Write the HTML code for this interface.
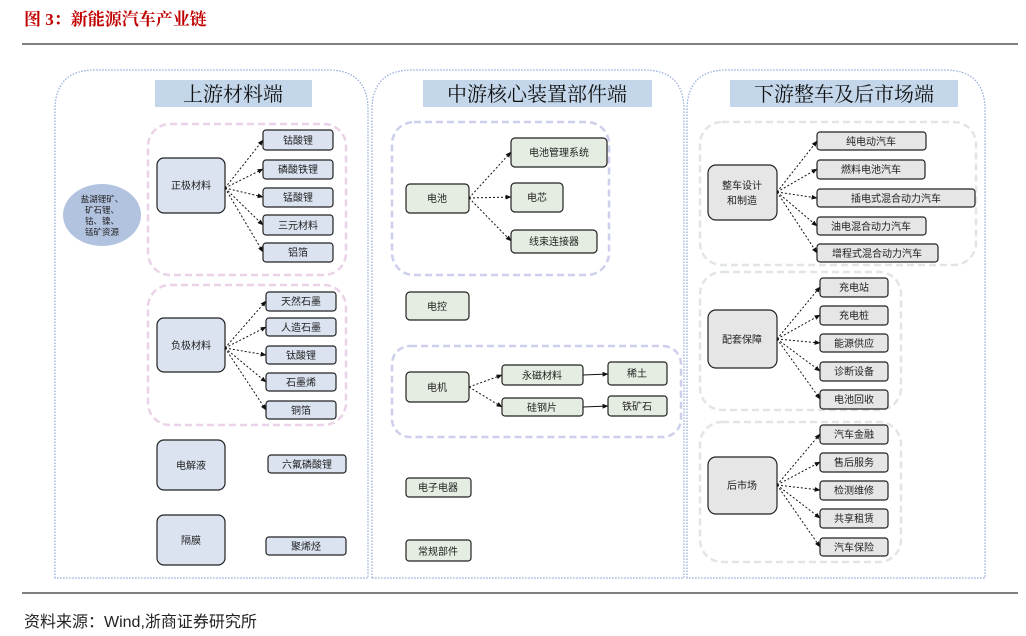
<!DOCTYPE html>
<html><head><meta charset="utf-8"><style>
html,body{margin:0;padding:0;background:#fff;}
svg{display:block;font-family:"Liberation Sans","Noto Sans CJK SC",sans-serif;}
</style></head><body>
<svg width="1026" height="636" viewBox="0 0 1026 636" xmlns="http://www.w3.org/2000/svg">
<defs>
<marker id="a" viewBox="0 0 10 10" refX="9" refY="5" markerWidth="6" markerHeight="6" orient="auto"><path d="M0,1 L10,5 L0,9 z" fill="#111"/></marker>
</defs>
<text x="24" y="25" font-size="17" font-weight="bold" fill="#c00000" font-family="Liberation Serif,Noto Serif CJK SC,serif">图 3：新能源汽车产业链</text>
<line x1="22" y1="44" x2="1018" y2="44" stroke="#333" stroke-width="1.2"/>
<line x1="22" y1="593" x2="1018" y2="593" stroke="#333" stroke-width="1.2"/>
<text x="24" y="627" font-size="16" fill="#222">资料来源：Wind,浙商证券研究所</text>

<!-- panels -->
<g fill="none" stroke="#8fa8d8" stroke-width="1.2" stroke-dasharray="1.5 1.5">
<path d="M55,578 V110 Q55,70 95,70 H328 Q368,70 368,110 V578 Z"/>
<path d="M372,578 V110 Q372,70 412,70 H644 Q684,70 684,110 V578 Z"/>
<path d="M687,578 V110 Q687,70 727,70 H945 Q985,70 985,110 V578 Z"/>
</g>
<g fill="#c3d6ea">
<rect x="155" y="80" width="157" height="27"/>
<rect x="423" y="80" width="229" height="27"/>
<rect x="730" y="80" width="228" height="27"/>
</g>
<g font-size="20" fill="#111" text-anchor="middle" font-family="Liberation Serif,Noto Serif CJK SC,serif">
<text x="233" y="101">上游材料端</text>
<text x="537" y="101">中游核心装置部件端</text>
<text x="844" y="101">下游整车及后市场端</text>
</g>

<!-- groups -->
<g fill="none" stroke-width="2.5" stroke-dasharray="7 4">
<rect x="148" y="124" width="198" height="151" rx="22" stroke="#ead3e8"/>
<rect x="148" y="285" width="198" height="140" rx="22" stroke="#ead3e8"/>
<rect x="392" y="122" width="217" height="153" rx="22" stroke="#ccd0ec"/>
<rect x="392" y="346" width="289" height="91" rx="18" stroke="#ccd0ec"/>
<rect x="700" y="122" width="276" height="143" rx="22" stroke="#e2e6e2"/>
<rect x="700" y="272" width="201" height="138" rx="22" stroke="#e2e6e2"/>
<rect x="700" y="422" width="201" height="140" rx="22" stroke="#e2e6e2"/>
</g>

<ellipse cx="102" cy="215" rx="39" ry="31" fill="#b2c3e0"/>
<g font-size="8.5" fill="#222" text-anchor="middle">
<text x="102" y="202">盐湖锂矿、</text><text x="102" y="213">矿石锂、</text><text x="102" y="224">钴、镍、</text><text x="102" y="235">锰矿资源</text>
</g>

<!-- connectors -->
<g stroke="#111" stroke-width="1" stroke-dasharray="2 2" fill="none" marker-end="url(#a)">
<line x1="225" y1="188" x2="263" y2="140"/><line x1="225" y1="188" x2="263" y2="169"/><line x1="225" y1="188" x2="263" y2="197"/><line x1="225" y1="188" x2="263" y2="225"/><line x1="225" y1="188" x2="263" y2="252"/>
<line x1="225" y1="348" x2="266" y2="301"/><line x1="225" y1="348" x2="266" y2="327"/><line x1="225" y1="348" x2="266" y2="355"/><line x1="225" y1="348" x2="266" y2="382"/><line x1="225" y1="348" x2="266" y2="410"/>
<line x1="469" y1="198" x2="511" y2="152"/><line x1="469" y1="198" x2="511" y2="197"/><line x1="469" y1="198" x2="511" y2="241"/>
<line x1="469" y1="387" x2="502" y2="375"/><line x1="469" y1="387" x2="502" y2="407"/>
<line x1="777" y1="192" x2="817" y2="141"/><line x1="777" y1="192" x2="817" y2="169"/><line x1="777" y1="192" x2="817" y2="198"/><line x1="777" y1="192" x2="817" y2="226"/><line x1="777" y1="192" x2="817" y2="253"/>
<line x1="777" y1="339" x2="820" y2="287"/><line x1="777" y1="339" x2="820" y2="315"/><line x1="777" y1="339" x2="820" y2="343"/><line x1="777" y1="339" x2="820" y2="371"/><line x1="777" y1="339" x2="820" y2="399"/>
<line x1="777" y1="485" x2="820" y2="434"/><line x1="777" y1="485" x2="820" y2="462"/><line x1="777" y1="485" x2="820" y2="490"/><line x1="777" y1="485" x2="820" y2="518"/><line x1="777" y1="485" x2="820" y2="547"/>
</g>
<g stroke="#111" stroke-width="1" marker-end="url(#a)">
<line x1="583" y1="375" x2="608" y2="374"/><line x1="583" y1="407" x2="608" y2="406"/>
</g>

<!-- boxes -->
<g stroke="#222" stroke-width="1.2">
<g fill="#dbe3f1">
<rect x="157" y="158" width="68" height="55" rx="7"/>
<rect x="263" y="130" width="70" height="20" rx="3"/><rect x="263" y="160" width="70" height="19" rx="3"/><rect x="263" y="188" width="70" height="19" rx="3"/><rect x="263" y="215" width="70" height="20" rx="3"/><rect x="263" y="243" width="70" height="19" rx="3"/>
<rect x="157" y="318" width="68" height="54" rx="7"/>
<rect x="266" y="292" width="70" height="19" rx="3"/><rect x="266" y="318" width="70" height="18" rx="3"/><rect x="266" y="346" width="70" height="18" rx="3"/><rect x="266" y="373" width="70" height="18" rx="3"/><rect x="266" y="401" width="70" height="18" rx="3"/>
<rect x="157" y="440" width="68" height="50" rx="7"/><rect x="268" y="455" width="78" height="18" rx="3"/>
<rect x="157" y="515" width="68" height="50" rx="7"/><rect x="266" y="537" width="80" height="18" rx="3"/>
</g>
<g fill="#e5ede2">
<rect x="406" y="184" width="63" height="29" rx="4"/>
<rect x="511" y="138" width="96" height="29" rx="4"/><rect x="511" y="183" width="52" height="29" rx="4"/><rect x="511" y="230" width="86" height="23" rx="4"/>
<rect x="406" y="292" width="63" height="28" rx="4"/>
<rect x="406" y="372" width="63" height="30" rx="4"/>
<rect x="502" y="365" width="81" height="20" rx="3"/><rect x="608" y="362" width="59" height="23" rx="3"/><rect x="502" y="398" width="81" height="18" rx="3"/><rect x="608" y="396" width="59" height="20" rx="3"/>
<rect x="406" y="478" width="65" height="19" rx="3"/><rect x="406" y="540" width="65" height="21" rx="3"/>
</g>
<g fill="#e6e6e6">
<rect x="708" y="165" width="69" height="55" rx="8"/>
<rect x="817" y="132" width="109" height="18" rx="3"/><rect x="817" y="160" width="108" height="19" rx="3"/><rect x="817" y="189" width="158" height="18" rx="3"/><rect x="817" y="217" width="109" height="18" rx="3"/><rect x="817" y="244" width="121" height="18" rx="3"/>
<rect x="708" y="310" width="69" height="58" rx="8"/>
<rect x="820" y="278" width="68" height="19" rx="3"/><rect x="820" y="306" width="68" height="19" rx="3"/><rect x="820" y="334" width="68" height="18" rx="3"/><rect x="820" y="362" width="68" height="19" rx="3"/><rect x="820" y="390" width="68" height="19" rx="3"/>
<rect x="708" y="457" width="69" height="57" rx="8"/>
<rect x="820" y="425" width="68" height="19" rx="3"/><rect x="820" y="453" width="68" height="19" rx="3"/><rect x="820" y="481" width="68" height="19" rx="3"/><rect x="820" y="509" width="68" height="19" rx="3"/><rect x="820" y="538" width="68" height="18" rx="3"/>
</g>
</g>

<g font-size="10" fill="#222" text-anchor="middle">
<text x="191" y="189">正极材料</text>
<text x="298" y="144">钴酸锂</text><text x="298" y="173">磷酸铁锂</text><text x="298" y="201">锰酸锂</text><text x="298" y="229">三元材料</text><text x="298" y="256">铝箔</text>
<text x="191" y="349">负极材料</text>
<text x="301" y="305">天然石墨</text><text x="301" y="331">人造石墨</text><text x="301" y="359">钛酸锂</text><text x="301" y="386">石墨烯</text><text x="301" y="414">铜箔</text>
<text x="191" y="469">电解液</text><text x="307" y="468">六氟磷酸锂</text>
<text x="191" y="544">隔膜</text><text x="306" y="550">聚烯烃</text>
<text x="437" y="202">电池</text>
<text x="559" y="156">电池管理系统</text><text x="537" y="201">电芯</text><text x="554" y="245">线束连接器</text>
<text x="437" y="310">电控</text>
<text x="437" y="391">电机</text>
<text x="542" y="379">永磁材料</text><text x="637" y="377">稀土</text><text x="542" y="411">硅钢片</text><text x="637" y="410">铁矿石</text>
<text x="438" y="491">电子电器</text><text x="438" y="555">常规部件</text>
<text x="742" y="189">整车设计</text><text x="742" y="204">和制造</text>
<text x="871" y="145">纯电动汽车</text><text x="871" y="173">燃料电池汽车</text><text x="896" y="202">插电式混合动力汽车</text><text x="871" y="230">油电混合动力汽车</text><text x="877" y="257">增程式混合动力汽车</text>
<text x="742" y="343">配套保障</text>
<text x="854" y="291">充电站</text><text x="854" y="319">充电桩</text><text x="854" y="347">能源供应</text><text x="854" y="375">诊断设备</text><text x="854" y="403">电池回收</text>
<text x="742" y="489">后市场</text>
<text x="854" y="438">汽车金融</text><text x="854" y="466">售后服务</text><text x="854" y="494">检测维修</text><text x="854" y="522">共享租赁</text><text x="854" y="551">汽车保险</text>
</g>
</svg>
</body></html>
